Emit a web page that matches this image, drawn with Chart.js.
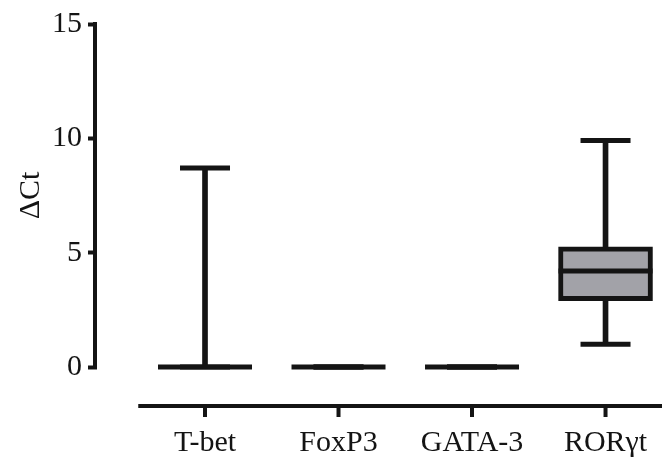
<!DOCTYPE html>
<html>
<head>
<meta charset="utf-8">
<script src="https://cdn.jsdelivr.net/npm/chart.js@4.4.0/dist/chart.umd.min.js"></script>
<style>
    html, body { margin: 0; padding: 0; background: #fff; }
    #wrap { width: 662px; height: 459px; position: relative; }
</style>
</head>
<body>
<div id="wrap"><canvas id="chart"></canvas></div>
<script>
// Box plot values
const categories = ['T-bet', 'FoxP3', 'GATA-3', 'RORγt'];
const minValues = [0, 0, 0, 1.0];
const q1Values = [0, 0, 0, 2.9];
const medianValues = [0, 0, 0, 4.2];
const q3Values = [0, 0, 0, 5.25];
const maxValues = [8.7, 0, 0, 9.9];
const yTicks = [0, 5, 10, 15];

const INK = '#141414';
const FONT_FAMILY = "'Liberation Serif', 'Times New Roman', serif";

// Caps, medians and the detached (Prism style) axes
const boxPlotExtras = {
    id: 'boxPlotExtras',
    afterDatasetsDraw(chart) {
        const { ctx, chartArea, scales: { x, y } } = chart;
        ctx.save();
        ctx.strokeStyle = INK;
        ctx.lineCap = 'butt';

        const hline = (cx, value, width) => {
            const py = y.getPixelForValue(value);
            ctx.beginPath();
            ctx.moveTo(cx - width / 2, py);
            ctx.lineTo(cx + width / 2, py);
            ctx.stroke();
        };

        ctx.lineWidth = 5;
        categories.forEach((cat, i) => {
            const cx = x.getPixelForValue(i);
            hline(cx, minValues[i], 50);
            hline(cx, maxValues[i], 50);
            hline(cx, medianValues[i], 94);
        });

        // y axis line, 0..15
        ctx.lineWidth = 4;
        const yTop = y.getPixelForValue(yTicks[yTicks.length - 1]);
        const yBottom = y.getPixelForValue(yTicks[0]);
        ctx.beginPath();
        ctx.moveTo(chartArea.left - 2, yTop - 2);
        ctx.lineTo(chartArea.left - 2, yBottom + 2);
        ctx.stroke();

        // x axis line sits below the zero line, with its own tick marks
        const axisY = chartArea.bottom + 39;
        ctx.beginPath();
        ctx.moveTo(x.getPixelForValue(-0.5), axisY);
        ctx.lineTo(chartArea.right, axisY);
        ctx.stroke();
        categories.forEach((cat, i) => {
            const cx = x.getPixelForValue(i);
            ctx.beginPath();
            ctx.moveTo(cx, axisY);
            ctx.lineTo(cx, axisY + 11);
            ctx.stroke();
        });
        ctx.restore();
    }
};

const chart = new Chart(document.getElementById('chart').getContext('2d'), {
    type: 'bar',
    data: {
        datasets: [
            {
                label: 'IQR',
                data: categories.map((c, i) => ({ x: i, y: [q1Values[i], q3Values[i]] })),
                backgroundColor: '#a2a2a8',
                borderColor: INK,
                borderWidth: 5,
                borderSkipped: false,
                barThickness: 94,
                grouped: false,
                order: 0
            },
            {
                label: 'Range',
                data: categories.map((c, i) => ({ x: i, y: [minValues[i], maxValues[i]] })),
                backgroundColor: INK,
                borderWidth: 0,
                barThickness: 5,
                grouped: false,
                order: 1
            }
        ]
    },
    options: {
        responsive: true,
        maintainAspectRatio: false,
        animation: false,
        devicePixelRatio: 1,
        layout: { padding: { top: 24, right: 0, bottom: 0, left: 0 } },
        plugins: {
            legend: { display: false },
            tooltip: { enabled: false }
        },
        scales: {
            x: {
                type: 'linear',
                offset: false,
                min: -0.809,
                max: 3.423,
                grid: { display: false, drawTicks: false, offset: false },
                border: { display: false },
                afterBuildTicks: (scale) => {
                    scale.ticks = categories.map((c, i) => ({ value: i }));
                },
                afterFit: (scale) => {
                    scale.height = 92;
                    // labels sit well inside the plot width, no side padding needed
                    scale.paddingLeft = 0;
                    scale.paddingRight = 0;
                },
                ticks: {
                    autoSkip: false,
                    maxRotation: 0,
                    padding: 58,
                    color: INK,
                    font: { family: FONT_FAMILY, size: 30 },
                    callback: (value) => categories[value]
                }
            },
            y: {
                min: 0,
                max: 15,
                afterBuildTicks: (scale) => {
                    scale.ticks = yTicks.map(v => ({ value: v }));
                },
                afterFit: (scale) => { scale.width = 97; },
                grid: {
                    drawOnChartArea: false,
                    drawTicks: true,
                    tickLength: 9,
                    tickWidth: 4,
                    tickColor: INK
                },
                border: { display: false },
                ticks: {
                    padding: 6,
                    color: INK,
                    font: { family: FONT_FAMILY, size: 30 }
                },
                title: {
                    display: true,
                    text: 'ΔCt',
                    color: INK,
                    padding: { top: 13, bottom: 0 },
                    font: { family: FONT_FAMILY, size: 30 }
                }
            }
        }
    },
    plugins: [boxPlotExtras]
});
</script>
</body>
</html>
